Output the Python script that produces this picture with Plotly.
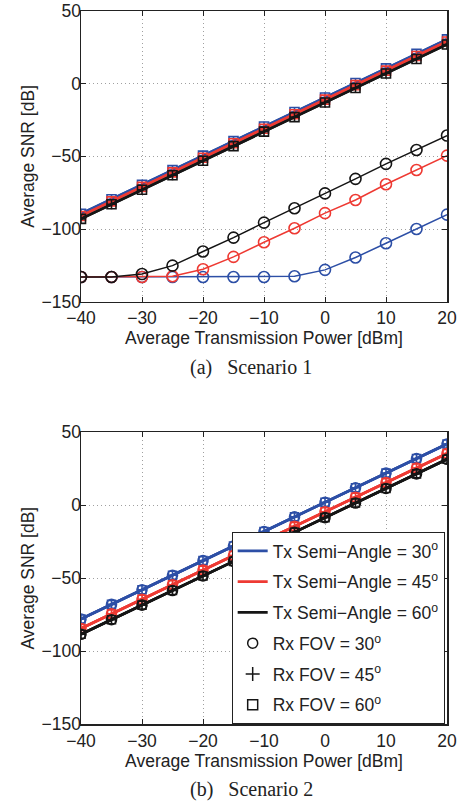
import plotly.graph_objects as go

# ---------------- data ----------------
x_power = [-40, -35, -30, -25, -20, -15, -10, -5, 0, 5, 10, 15, 20]

# Scenario 1 (Rx FOV 45 and 60 give the upper bundle, Rx FOV 30 the lower curves)
s1_tx30_fov45 = [-89.5, -79.5, -69.5, -59.5, -49.5, -39.5, -29.5, -19.5, -9.5, 0.5, 10.5, 20.5, 30.5]
s1_tx30_fov60 = [-89.5, -79.5, -69.5, -59.5, -49.5, -39.5, -29.5, -19.5, -9.5, 0.5, 10.5, 20.5, 30.5]
s1_tx45_fov45 = [-91, -81, -71, -61, -51, -41, -31, -21, -11, -1, 9, 19, 29]
s1_tx45_fov60 = [-91, -81, -71, -61, -51, -41, -31, -21, -11, -1, 9, 19, 29]
s1_tx60_fov45 = [-93, -83, -73, -63, -53, -43, -33, -23, -13, -3, 7, 17, 27]
s1_tx60_fov60 = [-93, -83, -73, -63, -53, -43, -33, -23, -13, -3, 7, 17, 27]
s1_tx30_fov30 = [-133, -133, -133, -133, -133, -133, -133, -132.5, -128.1, -119.6, -109.8, -100, -90.1]
s1_tx45_fov30 = [-133, -133, -133, -132.5, -127.7, -119.2, -109.1, -99.5, -89.1, -80, -69.2, -59.4, -49.5]
s1_tx60_fov30 = [-133, -133, -131, -125.2, -115.5, -105.9, -95.6, -85.7, -75.5, -65.5, -55.2, -45.6, -35.7]

# Scenario 2 (all Rx FOVs nearly coincide for each Tx semi-angle)
s2_tx30 = [-78, -68, -58, -48, -38, -28, -18, -8, 2, 12, 22, 32, 42]
s2_tx45 = [-84.5, -74.5, -64.5, -54.5, -44.5, -34.5, -24.5, -14.5, -4.5, 5.5, 15.5, 25.5, 35.5]
s2_tx60 = [-88.5, -78.5, -68.5, -58.5, -48.5, -38.5, -28.5, -18.5, -8.5, 1.5, 11.5, 21.5, 31.5]

x_ticks = [-40, -30, -20, -10, 0, 10, 20]
y_ticks = [-150, -100, -50, 0, 50]

tx_labels = ["Tx Semi\u2212Angle = 30<sup>o</sup>",
             "Tx Semi\u2212Angle = 45<sup>o</sup>",
             "Tx Semi\u2212Angle = 60<sup>o</sup>"]
rx_labels = ["Rx FOV = 30<sup>o</sup>", "Rx FOV = 45<sup>o</sup>", "Rx FOV = 60<sup>o</sup>"]

# ---------------- styles ----------------
BLUE = "#2d4fa6"
RED = "#ee3a33"
BLACK = "#151515"
SANS = "Liberation Sans, Arial, Helvetica, sans-serif"
SERIF = "Liberation Serif, Times New Roman, serif"

fig = go.Figure()


def add(y, color, symbol, xa, ya, width, size):
    fig.add_trace(go.Scatter(
        x=x_power, y=y, mode="lines+markers", xaxis=xa, yaxis=ya,
        line=dict(color=color, width=width),
        marker=dict(symbol=symbol, size=size, color=color,
                    line=dict(color=color, width=1.6)),
        showlegend=False, hoverinfo="skip"))


# Scenario 1 lower curves (Rx FOV 30)
for y, c in [(s1_tx30_fov30, BLUE), (s1_tx45_fov30, RED), (s1_tx60_fov30, BLACK)]:
    add(y, c, "circle-open", "x", "y", 1.5, 11)

# Scenario 1 upper bundle
for y45, y60, c in [(s1_tx30_fov45, s1_tx30_fov60, BLUE),
                    (s1_tx45_fov45, s1_tx45_fov60, RED),
                    (s1_tx60_fov45, s1_tx60_fov60, BLACK)]:
    add(y60, c, "square-open", "x", "y", 2.6, 9)
    add(y45, c, "cross-thin-open", "x", "y", 2.6, 7)

# Scenario 2
for y, c in [(s2_tx30, BLUE), (s2_tx45, RED), (s2_tx60, BLACK)]:
    add(y, c, "square-open", "x2", "y2", 2.6, 8)
    add(y, c, "cross-thin-open", "x2", "y2", 2.6, 7)
    add(y, c, "circle-open", "x2", "y2", 2.6, 10)

# Legend entries (legend-only traces)
gi = 0
for lab, c in zip(tx_labels, [BLUE, RED, BLACK]):
    fig.add_trace(go.Scatter(x=[None], y=[None], mode="lines", name=lab,
                             line=dict(color=c, width=2.6), xaxis="x2", yaxis="y2",
                             legendgroup=f"g{gi}", showlegend=True))
    gi += 1
for lab, sym in zip(rx_labels, ["circle-open", "cross-thin-open", "square-open"]):
    fig.add_trace(go.Scatter(x=[None], y=[None], mode="markers", name=lab,
                             marker=dict(symbol=sym, size=10, color=BLACK,
                                         line=dict(color=BLACK, width=1.5)),
                             xaxis="x2", yaxis="y2",
                             legendgroup=f"g{gi}", showlegend=True))
    gi += 1

axis_common = dict(
    showline=True, linecolor="#222", linewidth=1.5, mirror="ticks",
    ticks="inside", ticklen=5, tickcolor="#222", tickwidth=1,
    showgrid=True, gridcolor="#a0a0a0", griddash="1px,3px", gridwidth=1,
    zeroline=False, tickfont=dict(family=SANS, size=17.5, color="#222"),
)

xax = dict(axis_common, range=[-40, 20], tickvals=x_ticks,
           title=dict(text="Average Transmission Power [dBm]",
                      font=dict(family=SANS, size=17.5, color="#222"), standoff=0))
yax = dict(axis_common, range=[-150, 50], tickvals=y_ticks, ticklabelstandoff=-5,
           title=dict(text="Average SNR [dB]",
                      font=dict(family=SANS, size=17.5, color="#222"), standoff=2))

fig.update_layout(
    width=462, height=802,
    margin=dict(l=81, r=15, t=11, b=78, autoexpand=False),
    paper_bgcolor="white", plot_bgcolor="white",
    xaxis=dict(xax, domain=[0, 1], anchor="y"),
    yaxis=dict(yax, domain=[0.5923, 1], anchor="x"),
    xaxis2=dict(xax, domain=[0, 1], anchor="y2"),
    yaxis2=dict(yax, domain=[0, 0.4091], anchor="x2"),
    showlegend=True,
    legend=dict(x=0.4117, y=0, xanchor="left", yanchor="bottom",
                bgcolor="white", bordercolor="#222", borderwidth=1,
                font=dict(family=SANS, size=17.5, color="#222"),
                traceorder="grouped", tracegroupgap=5, itemwidth=30),
    annotations=[
        dict(text="(a)\u2002\u2005Scenario 1", xref="paper", yref="paper",
             x=(251 - 81) / 366, y=0.4993, showarrow=False,
             font=dict(family=SERIF, size=20, color="#222"), xanchor="center", yanchor="middle"),
        dict(text="(b)\u2002\u2005Scenario 2", xref="paper", yref="paper",
             x=(251 - 81) / 366, y=-0.0912, showarrow=False,
             font=dict(family=SERIF, size=20, color="#222"), xanchor="center", yanchor="middle"),
    ],
)

fig.write_html(
    "out.html",
    config={"displayModeBar": False, "staticPlot": True},
    post_script="document.documentElement.style.margin='0';"
                "document.body.style.margin='0';document.body.style.padding='0';"
                "document.body.style.overflow='hidden';",
)
